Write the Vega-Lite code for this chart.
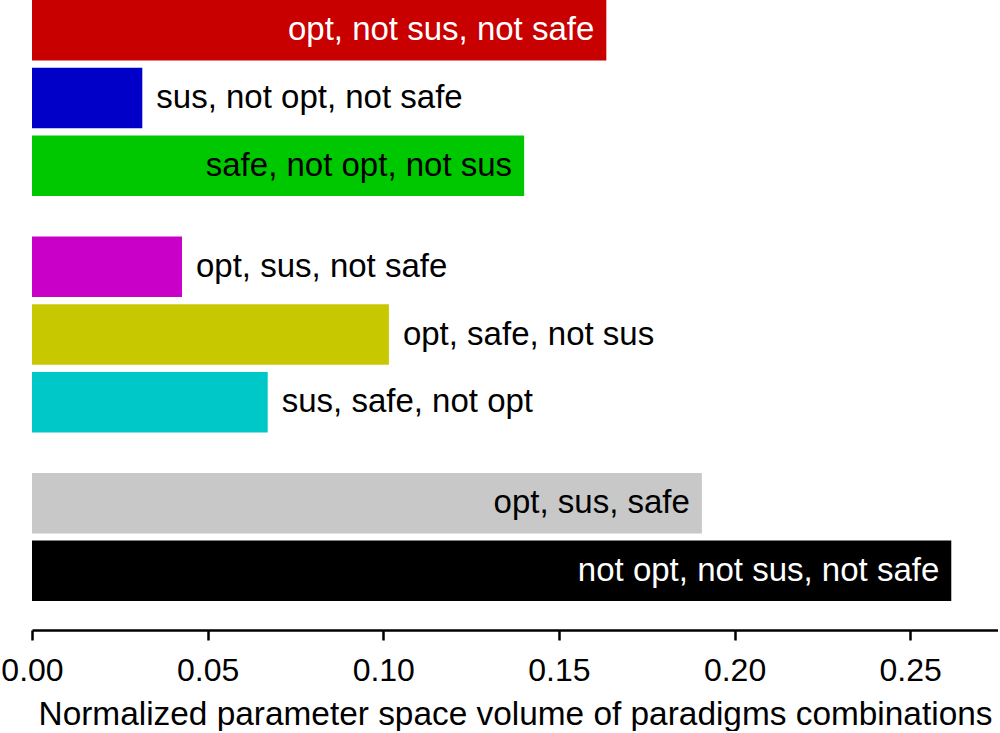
{
  "$schema": "https://vega.github.io/schema/vega-lite/v6.json",
  "padding": 0,
  "background": "white",
  "spacing": 40.5,
  "config": {"view": {"stroke": null}, "font": "Liberation Sans"},
  "data": {"values": [
    {"name": "opt, not sus, not safe", "value": 0.1635, "group": 1},
    {"name": "sus, not opt, not safe", "value": 0.0314, "group": 1},
    {"name": "safe, not opt, not sus", "value": 0.1401, "group": 1},
    {"name": "opt, sus, not safe", "value": 0.0427, "group": 2},
    {"name": "opt, safe, not sus", "value": 0.1016, "group": 2},
    {"name": "sus, safe, not opt", "value": 0.0671, "group": 2},
    {"name": "opt, sus, safe", "value": 0.1907, "group": 3},
    {"name": "not opt, not sus, not safe", "value": 0.2617, "group": 3}
  ]},
  "vconcat": [
    {
      "width": 966, "height": 196,
      "transform": [{"filter": "datum.group == 1"}],
      "encoding": {
        "y": {"field": "name", "type": "nominal", "sort": null, "axis": null, "scale": {"paddingInner": 0.105, "paddingOuter": 0}},
        "x": {"field": "value", "type": "quantitative", "scale": {"domain": [0, 0.275], "nice": false, "zero": true}, "axis": null}
      },
      "layer": [
        {"mark": {"type": "bar"}, "encoding": {"color": {"field": "name", "type": "nominal", "legend": null, "scale": {
          "domain": ["opt, not sus, not safe", "sus, not opt, not safe", "safe, not opt, not sus", "opt, sus, not safe", "opt, safe, not sus", "sus, safe, not opt", "opt, sus, safe", "not opt, not sus, not safe"],
          "range": ["#c80000", "#0000c8", "#00c800", "#c800c8", "#c8c800", "#00c8c8", "#c8c8c8", "#000000"]}}}},
        {"transform": [{"filter": "datum.value < 0.12"}], "mark": {"type": "text", "align": "left", "baseline": "middle", "dx": 14, "fontSize": 33}, "encoding": {"text": {"field": "name"}, "color": {"value": "black"}}},
        {"transform": [{"filter": "datum.value >= 0.12"}], "mark": {"type": "text", "align": "right", "baseline": "middle", "dx": -12, "fontSize": 33}, "encoding": {"text": {"field": "name"}, "color": {"condition": {"test": "datum.name == 'opt, not sus, not safe' || datum.name == 'not opt, not sus, not safe'", "value": "white"}, "value": "black"}}}
      ]
    },
    {
      "width": 966, "height": 196,
      "transform": [{"filter": "datum.group == 2"}],
      "encoding": {
        "y": {"field": "name", "type": "nominal", "sort": null, "axis": null, "scale": {"paddingInner": 0.105, "paddingOuter": 0}},
        "x": {"field": "value", "type": "quantitative", "scale": {"domain": [0, 0.275], "nice": false, "zero": true}, "axis": null}
      },
      "layer": [
        {"mark": {"type": "bar"}, "encoding": {"color": {"field": "name", "type": "nominal", "legend": null, "scale": {
          "domain": ["opt, not sus, not safe", "sus, not opt, not safe", "safe, not opt, not sus", "opt, sus, not safe", "opt, safe, not sus", "sus, safe, not opt", "opt, sus, safe", "not opt, not sus, not safe"],
          "range": ["#c80000", "#0000c8", "#00c800", "#c800c8", "#c8c800", "#00c8c8", "#c8c8c8", "#000000"]}}}},
        {"transform": [{"filter": "datum.value < 0.12"}], "mark": {"type": "text", "align": "left", "baseline": "middle", "dx": 14, "fontSize": 33}, "encoding": {"text": {"field": "name"}, "color": {"value": "black"}}},
        {"transform": [{"filter": "datum.value >= 0.12"}], "mark": {"type": "text", "align": "right", "baseline": "middle", "dx": -12, "fontSize": 33}, "encoding": {"text": {"field": "name"}, "color": {"condition": {"test": "datum.name == 'opt, not sus, not safe' || datum.name == 'not opt, not sus, not safe'", "value": "white"}, "value": "black"}}}
      ]
    },
    {
      "width": 966, "height": 128,
      "transform": [{"filter": "datum.group == 3"}],
      "encoding": {
        "y": {"field": "name", "type": "nominal", "sort": null, "axis": null, "scale": {"paddingInner": 0.105, "paddingOuter": 0}},
        "x": {"field": "value", "type": "quantitative", "scale": {"domain": [0, 0.275], "nice": false, "zero": true}, "axis": {
          "title": "Normalized parameter space volume of paradigms combinations",
          "values": [0, 0.05, 0.1, 0.15, 0.2, 0.25],
          "format": ".2f",
          "grid": false,
          "labelFlush": false,
          "labelFontSize": 32,
          "labelColor": "black",
          "labelPadding": 15,
          "titleFontSize": 33.4,
          "titleFontWeight": "normal",
          "titleColor": "black",
          "titlePadding": 12,
          "domainColor": "black",
          "domainWidth": 2.5,
          "tickColor": "black",
          "tickWidth": 2.5,
          "tickSize": 10,
          "offset": 29
        }}
      },
      "layer": [
        {"mark": {"type": "bar"}, "encoding": {"color": {"field": "name", "type": "nominal", "legend": null, "scale": {
          "domain": ["opt, not sus, not safe", "sus, not opt, not safe", "safe, not opt, not sus", "opt, sus, not safe", "opt, safe, not sus", "sus, safe, not opt", "opt, sus, safe", "not opt, not sus, not safe"],
          "range": ["#c80000", "#0000c8", "#00c800", "#c800c8", "#c8c800", "#00c8c8", "#c8c8c8", "#000000"]}}}},
        {"transform": [{"filter": "datum.value < 0.12"}], "mark": {"type": "text", "align": "left", "baseline": "middle", "dx": 14, "fontSize": 33}, "encoding": {"text": {"field": "name"}, "color": {"value": "black"}}},
        {"transform": [{"filter": "datum.value >= 0.12"}], "mark": {"type": "text", "align": "right", "baseline": "middle", "dx": -12, "fontSize": 33}, "encoding": {"text": {"field": "name"}, "color": {"condition": {"test": "datum.name == 'opt, not sus, not safe' || datum.name == 'not opt, not sus, not safe'", "value": "white"}, "value": "black"}}}
      ]
    }
  ]
}
